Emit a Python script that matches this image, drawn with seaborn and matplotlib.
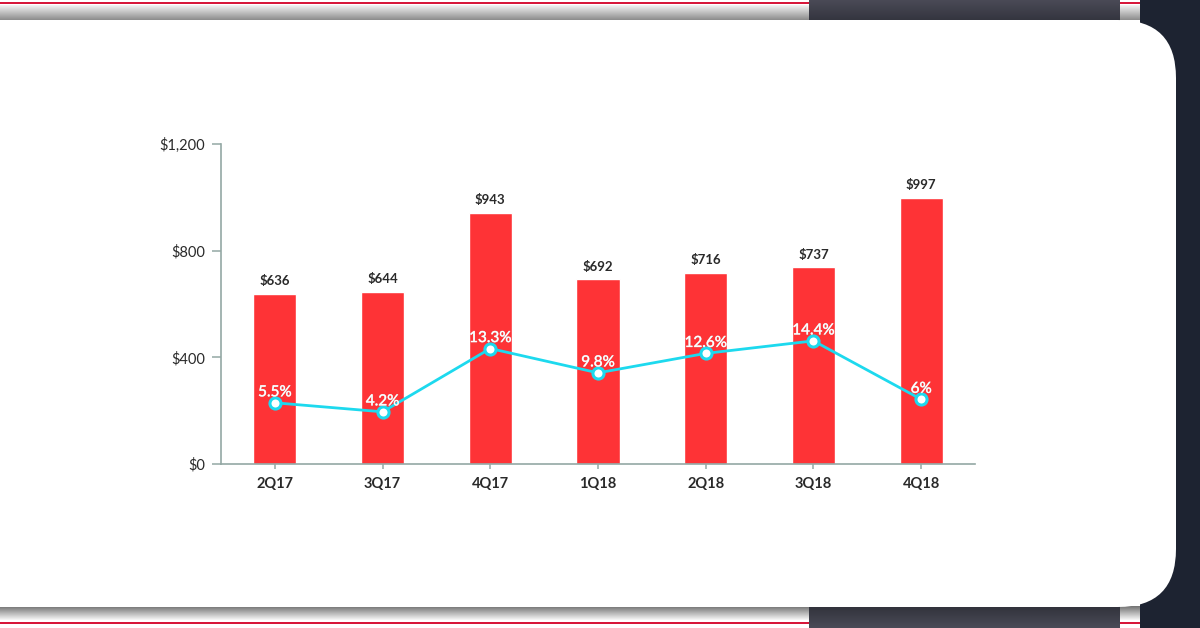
import numpy as np
import pandas as pd
import matplotlib
matplotlib.use("Agg")
import matplotlib.pyplot as plt
import matplotlib.patheffects as pe
from matplotlib.patches import Rectangle, FancyBboxPatch
import seaborn as sns

quarters = ['2Q17', '3Q17', '4Q17', '1Q18', '2Q18', '3Q18', '4Q18']
revenue = [636, 644, 943, 692, 716, 737, 997]
growth = [5.5, 4.2, 13.3, 9.8, 12.6, 14.4, 6.0]
growth_labels = ['5.5%', '4.2%', '13.3%', '9.8%', '12.6%', '14.4%', '6%']
y_ticks = [0, 400, 800, 1200]
y_tick_labels = ['$0', '$400', '$800', '$1,200']

BAR_RED = '#fe3336'
CYAN = '#1dd9ee'
AXIS = '#93a8a4'
TEXT = '#2a2a2a'

sns.set_style('white')
plt.rcParams['font.family'] = ['Lato', 'DejaVu Sans']

fig = plt.figure(figsize=(12, 6.28), dpi=100)
fig.patch.set_facecolor('white')

# background decoration, 1 unit = 1 pixel
bg = fig.add_axes([0, 0, 1, 1], zorder=-5)
bg.set_xlim(0, 1200)
bg.set_ylim(628, 0)
bg.axis('off')

grad_top = np.linspace(0.95, 0.55, 50).reshape(-1, 1)
bg.imshow(grad_top, cmap='gray', vmin=0, vmax=1, extent=(0, 1200, 20, 5),
          aspect='auto', zorder=1)
grad_bot = np.linspace(0.45, 0.97, 50).reshape(-1, 1)
bg.imshow(grad_bot, cmap='gray', vmin=0, vmax=1, extent=(0, 1200, 620, 606),
          aspect='auto', zorder=1)
bg.add_patch(Rectangle((0, 2), 1140, 2.2, color='#d7173a', lw=0, zorder=2))
bg.add_patch(Rectangle((0, 621.5), 1140, 2.2, color='#d7173a', lw=0, zorder=2))

dark_top = np.linspace(0.0, 1.0, 50).reshape(-1, 1)
bg.imshow(dark_top, cmap=matplotlib.colors.LinearSegmentedColormap.from_list(
    'd1', ['#4a4a56', '#33343e']), extent=(809, 1120, 21, 0), aspect='auto', zorder=3)
bg.imshow(dark_top, cmap=matplotlib.colors.LinearSegmentedColormap.from_list(
    'd2', ['#30313a', '#4a4b57']), extent=(809, 1120, 628, 605), aspect='auto', zorder=3)
bg.add_patch(Rectangle((1140, 0), 60, 628, color='#1d2331', lw=0, zorder=3))

card = FancyBboxPatch((-200, 20), 1376, 587,
                      boxstyle='round,pad=0,rounding_size=58',
                      facecolor='white', edgecolor='none', zorder=4)
bg.add_patch(card)
bg.set_xlim(0, 1200)
bg.set_ylim(628, 0)

# main chart
ax = fig.add_axes([221 / 1200, (628 - 464) / 628, 754 / 1200, 320 / 628])
ax.set_facecolor('none')
df = pd.DataFrame({'quarter': quarters, 'revenue': revenue, 'growth': growth})
sns.barplot(data=df, x='quarter', y='revenue', color=BAR_RED, saturation=1,
            width=0.4, ax=ax)
ax.set_xlim(-0.5, 6.5)
ax.set_ylim(0, 1200)
ax.set_yticks(y_ticks)
ax.set_yticklabels(y_tick_labels)
ax.set_xlabel('')
ax.set_ylabel('')
for s in ['top', 'right']:
    ax.spines[s].set_visible(False)
for s in ['left', 'bottom']:
    ax.spines[s].set_color(AXIS)
    ax.spines[s].set_linewidth(1.2)
ax.tick_params(axis='y', length=6.5, width=1.1, color=AXIS, pad=5,
               labelsize=10.5, labelcolor=TEXT, direction='out', left=True)
ax.tick_params(axis='x', length=3.5, width=1.1, color=AXIS, pad=6,
               labelsize=10.5, labelcolor=TEXT, direction='out', bottom=True)
for lab in ax.get_xticklabels():
    lab.set_fontweight('bold')

ax.bar_label(ax.containers[0], labels=[f'${v}' for v in revenue], padding=5,
             fontsize=9.5, fontweight='bold', color=TEXT)

ax2 = ax.twinx()
ax2.set_ylim(-3.3, 42.7)
ax2.plot(np.arange(len(quarters)), growth, color=CYAN, lw=2, marker='o',
         markersize=8, markerfacecolor='white', markeredgecolor=CYAN,
         markeredgewidth=2.2, zorder=5)
for i, (g, t) in enumerate(zip(growth, growth_labels)):
    ax2.annotate(t, (i, g), xytext=(0, 2.5), textcoords='offset points',
                 ha='center', va='bottom', fontsize=11, color='white',
                 path_effects=[pe.withStroke(linewidth=0.4, foreground='#d5dcdc')],
                 zorder=6)
ax2.set_yticks([])
for s in ax2.spines.values():
    s.set_visible(False)
ax2.set_xlim(-0.5, 6.5)

fig.savefig('out.png', dpi=100, facecolor=fig.get_facecolor())
